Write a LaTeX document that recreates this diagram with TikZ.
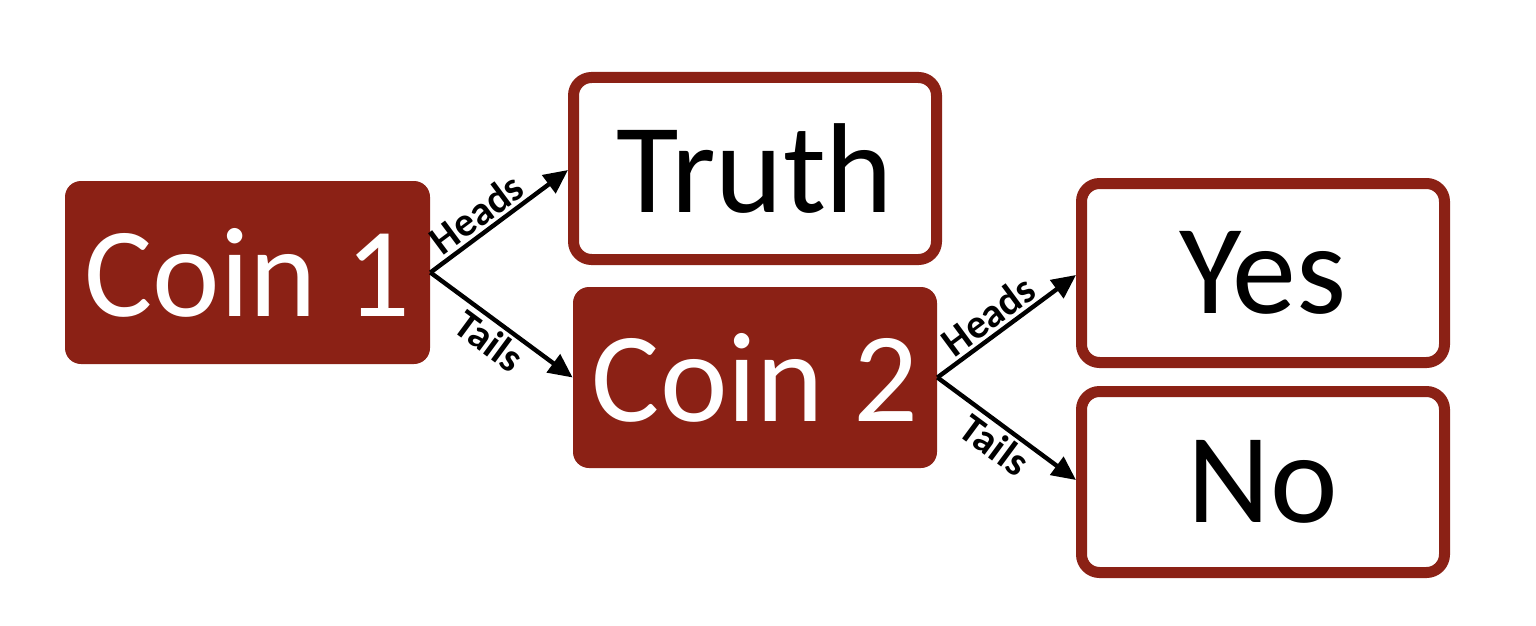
\documentclass[tikz,border=0pt]{standalone}
\usepackage{fontspec}
\setmainfont{Carlito}
\usetikzlibrary{arrows.meta}
\definecolor{coinred}{RGB}{139,33,21}
\tikzset{
  coinbox/.style={fill=coinred, draw=none, rounded corners=8pt, text=white, font=\fontsize{64}{70}\selectfont},
  outbox/.style={fill=white, draw=coinred, line width=5.5pt, rounded corners=9pt, text=black, font=\fontsize{64}{70}\selectfont},
  conn/.style={line width=2.2pt, -{Triangle[length=12pt,width=11pt]}},
  lab/.style={font=\bfseries\fontsize{20.5}{24}\selectfont, sloped, inner sep=1.5pt}
}
\begin{document}
\begin{tikzpicture}[x=0.5pt,y=-0.5pt]
\useasboundingbox (0,0) rectangle (1536,626);
\node[coinbox, minimum width=182.5pt, minimum height=91.5pt] (c1) at (247.5,272.5) {Coin 1};
\node[coinbox, minimum width=182pt, minimum height=90.5pt] (c2) at (755,377.5) {Coin 2};
\node[outbox, minimum width=181.5pt, minimum height=91pt] (t) at (755,168.5) {Truth};
\node[outbox, minimum width=181.5pt, minimum height=89.5pt] (y) at (1263,273) {Yes};
\node[outbox, minimum width=181.5pt, minimum height=90.5pt] (n) at (1263,482) {No};
\draw[conn] (c1.east) -- (t.west |- 0,170) node[lab, above, pos=0.42] {Heads};
\draw[conn] (c1.east) -- (c2.west) node[lab, below, pos=0.5] {Tails};
\draw[conn] (c2.east) -- (y.west |- 0,275) node[lab, above, pos=0.45] {Heads};
\draw[conn] (c2.east) -- (n.west |- 0,480) node[lab, below, pos=0.5] {Tails};
\end{tikzpicture}
\end{document}
